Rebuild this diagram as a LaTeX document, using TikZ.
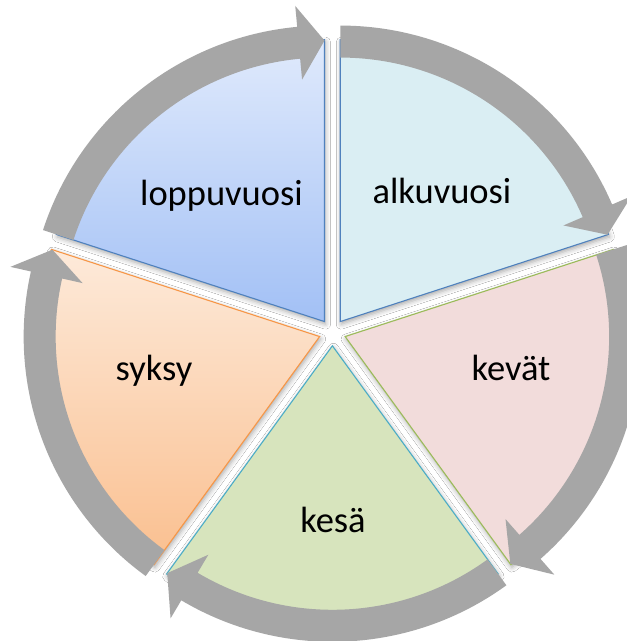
\documentclass[tikz,border=0pt]{standalone}
\usepackage{fontspec}
\setmainfont{Carlito}
\usetikzlibrary{calc,shadows.blur}
\definecolor{arrowgrey}{HTML}{A6A6A6}
\definecolor{alkfill}{HTML}{DAEEF3}
\definecolor{kevfill}{HTML}{F2DCDB}
\definecolor{kesfill}{HTML}{D7E4BD}
\definecolor{loptop}{HTML}{E0EAFC}
\definecolor{lopbot}{HTML}{A2C0F5}
\definecolor{syktop}{HTML}{FDEADA}
\definecolor{sykbot}{HTML}{FABF8F}
\definecolor{blueline}{HTML}{4F81BD}
\definecolor{greenline}{HTML}{9BBB59}
\definecolor{cyanline}{HTML}{4BACC6}
\definecolor{orangeline}{HTML}{F79646}
\newcommand\cycarrow[2]{%
  \fill[arrowgrey] ($(#1)+(#2:296pt)$) arc[start angle=#2, end angle=#2-66.7, radius=296pt]
    -- ($(#1)+(#2-66.7:317pt)$) -- ($(#1)+(#2-72:281pt)$) -- ($(#1)+(#2-66.7:243pt)$)
    -- ($(#1)+(#2-66.7:264pt)$) arc[start angle=#2-66.7, end angle=#2, radius=264pt] -- cycle;}
\begin{document}
\begin{tikzpicture}[x=1pt,y=1pt,
  seg/.style={line width=1.1pt, line join=miter,
    blur shadow={shadow xshift=1pt,shadow yshift=-2.5pt,shadow blur radius=5pt,shadow opacity=35}},
  lbl/.style={font=\fontsize{36.5}{42}\selectfont, anchor=base, inner sep=0pt, text=black}]
\useasboundingbox (0,0) rectangle (627,-641);
\clip (0,0) rectangle (627,-641);
\fill[white] (0,0) rectangle (627,-641);
\coordinate (O) at (332.4,-332.4);
\coordinate (tA) at ($(O)+(54:13.4pt)$);
\coordinate (tK) at ($(O)+(-18:13.4pt)$);
\coordinate (tKs) at ($(O)+(-90:13.4pt)$);
\coordinate (tS) at ($(O)+(-162:13.4pt)$);
\coordinate (tL) at ($(O)+(126:13.4pt)$);
% segments
\path[seg, fill=alkfill, draw=blueline] (tA) -- ($(tA)+(90:282pt)$) arc[start angle=90, end angle=18, radius=282pt] -- cycle;
\path[seg, fill=kevfill, draw=greenline] (tK) -- ($(tK)+(18:282pt)$) arc[start angle=18, end angle=-54, radius=282pt] -- cycle;
\path[seg, fill=kesfill, draw=cyanline] (tKs) -- ($(tKs)+(-54:282pt)$) arc[start angle=-54, end angle=-126, radius=282pt] -- cycle;
\path[seg, top color=syktop, bottom color=sykbot, draw=orangeline] (tS) -- ($(tS)+(-126:282pt)$) arc[start angle=-126, end angle=-198, radius=282pt] -- cycle;
\path[seg, top color=loptop, bottom color=lopbot, draw=blueline] (tL) -- ($(tL)+(162:282pt)$) arc[start angle=162, end angle=90, radius=282pt] -- cycle;
% arrows
\cycarrow{tA}{90}
\cycarrow{tK}{18}
\cycarrow{tKs}{-54}
\cycarrow{tS}{-126}
\cycarrow{tL}{162}
% labels
\node[lbl] (alk) at (442,-203) {alkuvuosi};
\node[lbl] (lop) at (221.5,-205) {loppuvuosi};
\node[lbl] (kev) at (511,-380) {kevät};
\node[lbl] (syk) at (154,-380) {syksy};
\node[lbl] (kes) at (333,-532) {kesä};
\end{tikzpicture}
\end{document}
